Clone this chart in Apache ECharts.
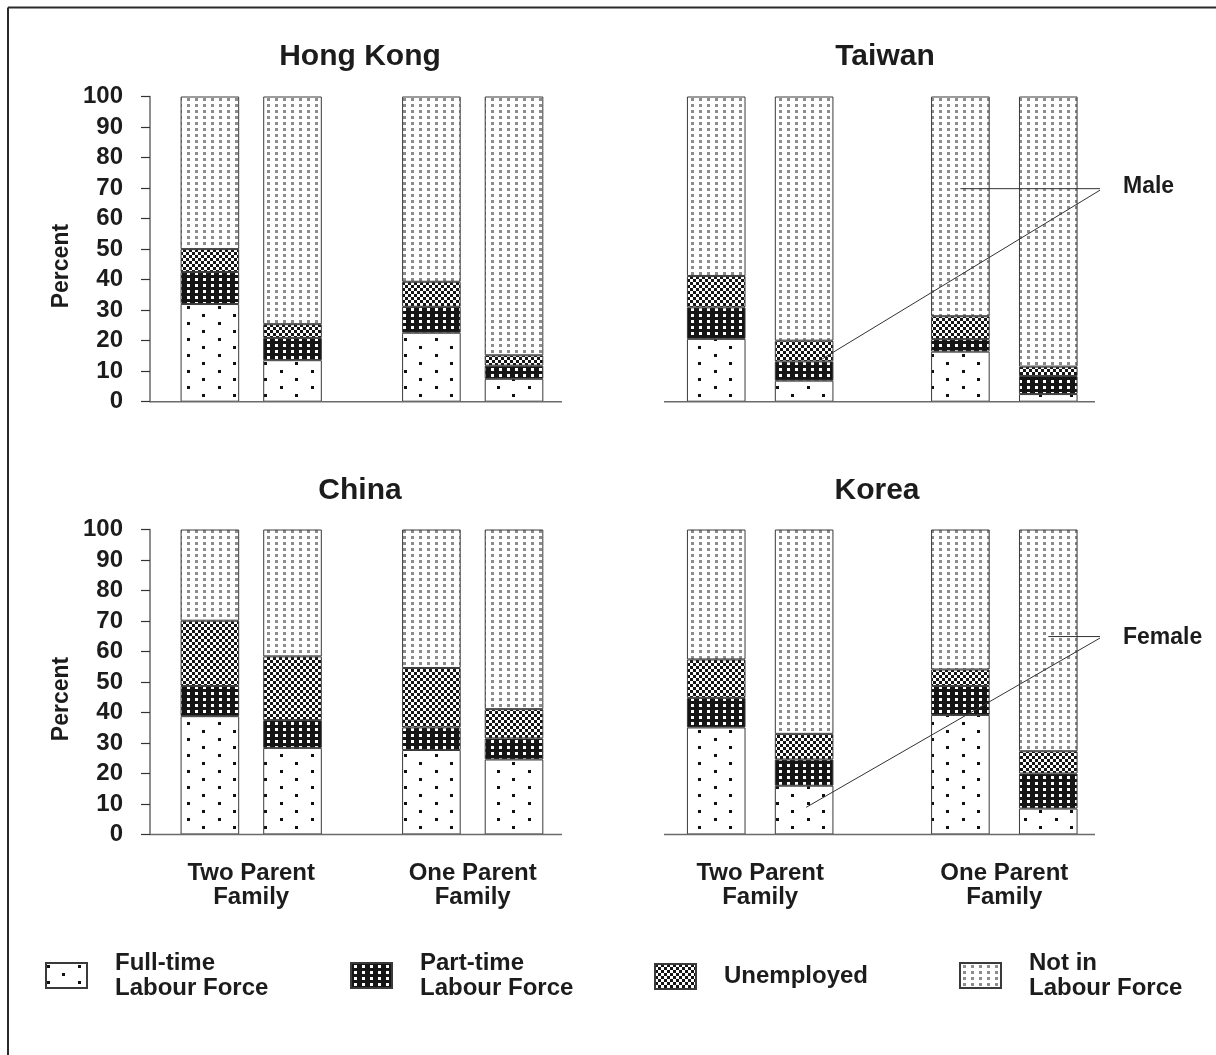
<!DOCTYPE html>
<html>
<head>
<meta charset="utf-8">
<script src="https://cdn.jsdelivr.net/npm/echarts@6/dist/echarts.min.js"></script>
<style>
html,body{margin:0;padding:0;background:#fff;}
#chart{width:1216px;height:1055px;}
</style>
</head>
<body>
<div id="chart"></div>
<script>
// ---------------- DATA ----------------
const categories = ['Two Parent\nFamily', 'One Parent\nFamily'];
const genders = ['Male', 'Female'];
const panelTitles = ['Hong Kong', 'Taiwan', 'China', 'Korea'];
const statusNames = ['Full-time\nLabour Force', 'Part-time\nLabour Force', 'Unemployed', 'Not in\nLabour Force'];
const yTickLabels = [0, 10, 20, 30, 40, 50, 60, 70, 80, 90, 100];
const yAxisName = 'Percent';

// order in each array: [Two Parent Male, Two Parent Female, One Parent Male, One Parent Female]
const hongKongFullTime   = [32.0, 13.6, 22.6, 7.5];
const hongKongPartTime   = [10.5, 7.3, 8.5, 4.3];
const hongKongUnemployed = [7.5, 4.5, 8.2, 3.4];
const hongKongNotInLF    = [50.0, 74.6, 60.7, 84.8];

const taiwanFullTime   = [20.6, 6.9, 16.4, 2.5];
const taiwanPartTime   = [10.3, 6.3, 4.1, 5.9];
const taiwanUnemployed = [10.3, 6.8, 7.5, 3.1];
const taiwanNotInLF    = [58.8, 80.0, 72.0, 88.5];

const chinaFullTime   = [38.8, 28.4, 27.7, 24.6];
const chinaPartTime   = [9.9, 9.1, 7.4, 6.9];
const chinaUnemployed = [21.4, 20.9, 19.5, 9.6];
const chinaNotInLF    = [29.9, 41.6, 45.4, 58.9];

const koreaFullTime   = [35.1, 16.0, 39.2, 8.5];
const koreaPartTime   = [9.7, 8.6, 9.5, 11.5];
const koreaUnemployed = [12.6, 8.4, 5.4, 7.3];
const koreaNotInLF    = [42.6, 67.0, 45.9, 72.7];

// annotation anchor values (percent)
const maleLabel = 'Male';
const femaleLabel = 'Female';
const maleHorizontalValue = 69.8;
const maleDiagonalValue = 14.0;
const femaleHorizontalValue = 64.9;
const femaleDiagonalValue = 8.9;

// ---------------- STYLE / LAYOUT ----------------
const FONT = "'Liberation Sans', Arial, Helvetica, sans-serif";
const TEXT = '#1c1c1c';
const panelData = [
  [hongKongFullTime, hongKongPartTime, hongKongUnemployed, hongKongNotInLF],
  [taiwanFullTime, taiwanPartTime, taiwanUnemployed, taiwanNotInLF],
  [chinaFullTime, chinaPartTime, chinaUnemployed, chinaNotInLF],
  [koreaFullTime, koreaPartTime, koreaUnemployed, koreaNotInLF]
];
const BAR_W = 58.6;
const grids = [
  {left: 140.45, top: 96.5, width: 443.0, height: 305.2},
  {left: 638.1,  top: 96.5, width: 488.3, height: 305.2},
  {left: 140.45, top: 529.5, width: 443.0, height: 305.0},
  {left: 638.1,  top: 529.5, width: 488.3, height: 305.0}
];
const barGaps = ['41%', '50%', '41%', '50%'];
const baselineX = [[150, 562], [664, 1095], [150, 562], [664, 1095]];
const titlePos = [
  {x: 360, y: 42}, {x: 885, y: 42}, {x: 360, y: 476}, {x: 877, y: 476}
];

function makePattern(w, h, bg, fg, rects) {
  const c = document.createElement('canvas');
  c.width = w; c.height = h;
  const ctx = c.getContext('2d');
  ctx.fillStyle = bg; ctx.fillRect(0, 0, w, h);
  ctx.fillStyle = fg;
  rects.forEach(r => ctx.fillRect(r[0], r[1], r[2], r[3]));
  return {image: c, repeat: 'repeat'};
}
const patterns = [
  makePattern(31, 16, '#ffffff', '#111111', [[1, 2, 3, 3], [16, 10, 3, 3]]),
  makePattern(8, 6, '#151515', '#ffffff', [[3, 2, 3, 3]]),
  makePattern(6, 6, '#ffffff', '#151515', [[0, 0, 3, 3], [3, 3, 3, 3]]),
  makePattern(8, 6, '#ffffff', '#8c8c8c', [[3, 2, 3, 3]])
];

// ---------------- OPTION ----------------
const series = [];
panelData.forEach((arrs, p) => {
  genders.forEach((g, gi) => {
    arrs.forEach((arr, s) => {
      series.push({
        type: 'bar',
        name: statusNames[s],
        xAxisIndex: p,
        yAxisIndex: p,
        stack: 'panel' + p + '-' + g,
        barWidth: BAR_W,
        barGap: barGaps[p],
        data: [arr[gi], arr[2 + gi]],
        itemStyle: {color: patterns[s], borderColor: '#3a3a3a', borderWidth: 1},
        emphasis: {disabled: true},
        silent: true
      });
    });
  });
});

const option = {
  animation: false,
  backgroundColor: '#ffffff',
  textStyle: {fontFamily: FONT},
  title: panelTitles.map((t, i) => ({
    text: t,
    left: titlePos[i].x,
    top: titlePos[i].y,
    textAlign: 'center',
    padding: 0,
    textStyle: {fontFamily: FONT, fontSize: 30, fontWeight: 'bold', color: TEXT}
  })),
  legend: statusNames.map((n, i) => ({
    data: [n],
    left: [45, 350, 654, 959][i],
    top: i === 2 ? 963 : 950.5,
    padding: 0,
    icon: 'rect',
    itemWidth: 41,
    itemHeight: 25,
    selectedMode: false,
    textStyle: {fontFamily: FONT, fontSize: 24, fontWeight: 'bold', color: TEXT, lineHeight: 25, padding: [0, 0, 0, 23]}
  })),
  grid: grids.map(g => Object.assign({containLabel: false}, g)),
  xAxis: grids.map((g, p) => ({
    type: 'category',
    gridIndex: p,
    data: categories,
    axisLine: {show: false},
    axisTick: {show: false},
    axisLabel: {
      show: p >= 2,
      interval: 0,
      margin: 27,
      fontFamily: FONT, fontSize: 24, fontWeight: 'bold', color: TEXT, lineHeight: 24
    },
    splitLine: {show: false}
  })),
  yAxis: grids.map((g, p) => {
    const showAxis = (p === 0 || p === 2);
    return {
      type: 'value',
      gridIndex: p,
      min: yTickLabels[0],
      max: yTickLabels[yTickLabels.length - 1],
      interval: yTickLabels[1] - yTickLabels[0],
      show: showAxis,
      offset: -9.55,
      name: yAxisName,
      nameLocation: 'middle',
      nameGap: 77,
      nameRotate: 90,
      nameTextStyle: {fontFamily: FONT, fontSize: 23, fontWeight: 'bold', color: TEXT, padding: [0, 34, 0, 0]},
      axisLine: {show: true, lineStyle: {color: '#6a6a6a', width: 1.5}},
      axisTick: {show: true, inside: false, length: 9, lineStyle: {color: '#333', width: 1.2}},
      axisLabel: {margin: 27, fontFamily: FONT, fontSize: 24, fontWeight: 'bold', color: TEXT},
      splitLine: {show: false}
    };
  }),
  series: series
};

const chart = echarts.init(document.getElementById('chart'), null, {renderer: 'canvas'});
chart.setOption(option);

// ---------------- ANNOTATIONS / FRAME ----------------
function px(p, cat, val) {
  return chart.convertToPixel({xAxisIndex: p, yAxisIndex: p}, [cat, val]);
}
function barCenterX(p, cat, gi) {
  const c = px(p, cat, 0)[0];
  const gapFrac = parseFloat(barGaps[p]) / 100;
  const half = (BAR_W + BAR_W * gapFrac) / 2;
  return gi === 0 ? c - half : c + half;
}

const graphics = [];
// frame (top and left edges)
graphics.push({type: 'line', shape: {x1: 8, y1: 7.5, x2: 1216, y2: 7.5}, style: {stroke: '#2a2a2a', lineWidth: 2}, silent: true});
graphics.push({type: 'line', shape: {x1: 8, y1: 7.5, x2: 8, y2: 1055}, style: {stroke: '#2a2a2a', lineWidth: 2}, silent: true});
// baselines
for (let p = 0; p < 4; p++) {
  const y0 = px(p, 0, 0)[1];
  graphics.push({type: 'line', z: 10, shape: {x1: baselineX[p][0], y1: y0, x2: baselineX[p][1], y2: y0}, style: {stroke: '#6a6a6a', lineWidth: 1.5}, silent: true});
}
const LEAD_X = 1100;
// Male (Taiwan panel)
{
  const yH = px(1, 1, maleHorizontalValue)[1];
  const xH = barCenterX(1, 1, 0);
  const yD = px(1, 0, maleDiagonalValue)[1];
  const xD = barCenterX(1, 0, 1) + 18;
  graphics.push({type: 'line', z: 20, shape: {x1: xH, y1: yH, x2: LEAD_X, y2: yH}, style: {stroke: '#333', lineWidth: 1}, silent: true});
  graphics.push({type: 'line', z: 20, shape: {x1: LEAD_X, y1: yH + 1.5, x2: xD, y2: yD}, style: {stroke: '#333', lineWidth: 1}, silent: true});
  graphics.push({type: 'text', z: 20, x: LEAD_X + 23, y: yH - 2, style: {text: maleLabel, font: 'bold 23px ' + FONT, fill: TEXT, textVerticalAlign: 'middle', verticalAlign: 'middle'}, silent: true});
}
// Female (Korea panel)
{
  const yH = px(3, 1, femaleHorizontalValue)[1];
  const xH = barCenterX(3, 1, 1);
  const yD = px(3, 0, femaleDiagonalValue)[1];
  const xD = barCenterX(3, 0, 1) + 2;
  graphics.push({type: 'line', z: 20, shape: {x1: xH, y1: yH, x2: LEAD_X, y2: yH}, style: {stroke: '#333', lineWidth: 1}, silent: true});
  graphics.push({type: 'line', z: 20, shape: {x1: LEAD_X, y1: yH + 1.5, x2: xD, y2: yD}, style: {stroke: '#333', lineWidth: 1}, silent: true});
  graphics.push({type: 'text', z: 20, x: LEAD_X + 23, y: yH + 1, style: {text: femaleLabel, font: 'bold 23px ' + FONT, fill: TEXT, textVerticalAlign: 'middle', verticalAlign: 'middle'}, silent: true});
}
chart.setOption({graphic: graphics});
</script>
</body>
</html>
